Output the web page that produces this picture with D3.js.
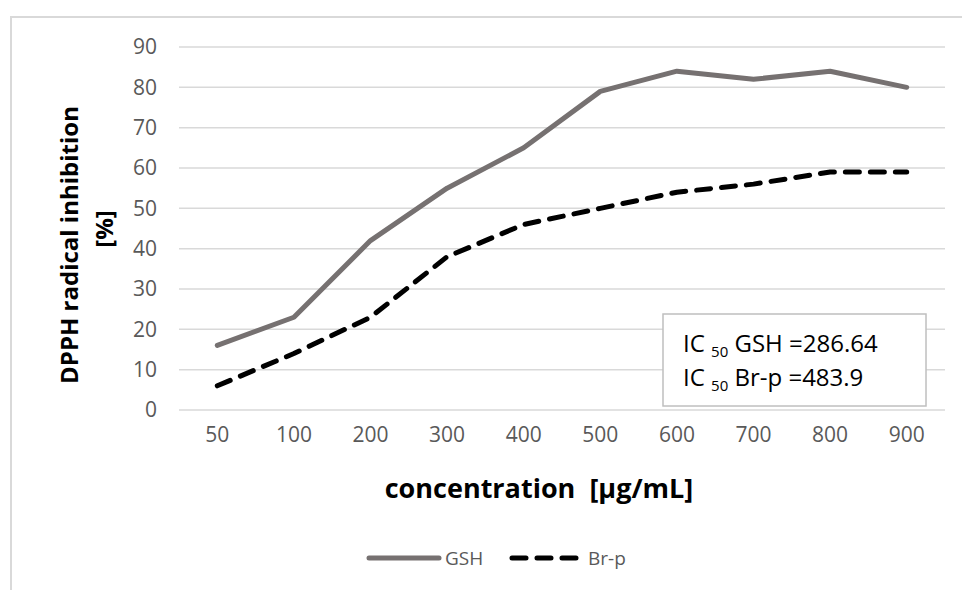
<!DOCTYPE html>
<html>
<head>
<meta charset="utf-8">
<script src="https://cdn.jsdelivr.net/npm/d3@7"></script>
<style>
  body { margin: 0; background: #fff; }
  svg { display: block; }
  text { font-family: "Open Sans", sans-serif; }
</style>
</head>
<body>
<svg id="chart" width="962" height="590"></svg>
<script>
// values
const concentrations = ["50", "100", "200", "300", "400", "500", "600", "700", "800", "900"];
const gsh = [16, 23, 42, 55, 65, 79, 84, 82, 84, 80];
const brp = [6, 14, 23, 38, 46, 50, 54, 56, 59, 59];
const yTicks = [0, 10, 20, 30, 40, 50, 60, 70, 80, 90];
const seriesNames = ["GSH", "Br-p"];
const icLines = [["GSH", "=286.64"], ["Br-p", "=483.9"]];

const svg = d3.select("#chart");

// outer chart frame (only left and top edges are in the crop)
svg.append("path")
    .attr("d", "M11,590 V17 H962")
    .attr("fill", "none")
    .attr("stroke", "#d9d9d9")
    .attr("stroke-width", 2);

let x = d3.scaleBand().domain(concentrations).range([179, 945]);
let y = d3.scaleLinear().domain([0, 90]).range([410, 47]);
let cx = d => x(d) + x.bandwidth() / 2;

// grid
svg.append("g")
    .selectAll("line")
    .data(yTicks)
    .enter()
    .append("line")
    .attr("x1", 179)
    .attr("x2", 945)
    .attr("y1", d => y(d))
    .attr("y2", d => y(d))
    .attr("stroke", "#d9d9d9")
    .attr("stroke-width", 1.5);

let yAxis = svg.append("g")
    .attr("transform", "translate(157,0)")
    .call(d3.axisLeft(y).tickValues(yTicks).tickSize(0).tickPadding(0));
yAxis.select(".domain").remove();
yAxis.selectAll("text")
    .attr("fill", "#595959")
    .style("font-size", "21px");

let xAxis = svg.append("g")
    .attr("transform", "translate(0,427)")
    .call(d3.axisBottom(x).tickSize(0).tickPadding(0));
xAxis.select(".domain").remove();
xAxis.selectAll("text")
    .attr("fill", "#595959")
    .attr("dy", "0.71em")
    .style("font-size", "21px");

// axis titles
svg.append("text")
    .attr("transform", "translate(78,245) rotate(-90)")
    .attr("text-anchor", "middle")
    .style("font-size", "24px")
    .style("font-weight", "bold")
    .text("DPPH radical inhibition");
svg.append("text")
    .attr("transform", "translate(113,229) rotate(-90)")
    .attr("text-anchor", "middle")
    .style("font-size", "24px")
    .style("font-weight", "bold")
    .text("[%]");
svg.append("text")
    .attr("x", 539)
    .attr("y", 498)
    .attr("text-anchor", "middle")
    .style("font-size", "27px")
    .style("font-weight", "bold")
    .style("white-space", "pre")
    .text("concentration  [µg/mL]");

// lines
let line = d3.line()
    .x((d, i) => cx(concentrations[i]))
    .y(d => y(d));

svg.append("path")
    .datum(gsh)
    .attr("d", line)
    .attr("fill", "none")
    .attr("stroke", "#767171")
    .attr("stroke-width", 5)
    .attr("stroke-linejoin", "round")
    .attr("stroke-linecap", "round");

svg.append("path")
    .datum(brp)
    .attr("d", line)
    .attr("fill", "none")
    .attr("stroke", "#000")
    .attr("stroke-width", 5)
    .attr("stroke-dasharray", "14,11")
    .attr("stroke-linejoin", "round")
    .attr("stroke-linecap", "round");

// IC50 box
svg.append("rect")
    .attr("x", 663)
    .attr("y", 314)
    .attr("width", 263)
    .attr("height", 92)
    .attr("fill", "#fff")
    .attr("stroke", "#bfbfbf")
    .attr("stroke-width", 1.5);

let ic = svg.append("g");
icLines.forEach((l, i) => {
    let t = ic.append("text")
        .attr("x", 683)
        .attr("y", 352 + i * 34)
        .attr("fill", "#000")
        .style("font-size", "24px");
    t.append("tspan").text("IC ");
    t.append("tspan").attr("dy", 5).style("font-size", "15px").text("50");
    t.append("tspan").attr("dy", -5).text(" " + l[0] + " " + l[1]);
});

// legend
let legend = svg.append("g");
legend.append("line")
    .attr("x1", 369).attr("x2", 439)
    .attr("y1", 558).attr("y2", 558)
    .attr("stroke", "#767171")
    .attr("stroke-width", 5)
    .attr("stroke-linecap", "round");
legend.append("text")
    .attr("x", 445).attr("y", 565)
    .attr("fill", "#595959")
    .style("font-size", "19px")
    .text(seriesNames[0]);
legend.append("line")
    .attr("x1", 512).attr("x2", 578)
    .attr("y1", 558).attr("y2", 558)
    .attr("stroke", "#000")
    .attr("stroke-width", 5)
    .attr("stroke-dasharray", "14,11")
    .attr("stroke-linecap", "round");
legend.append("text")
    .attr("x", 588).attr("y", 565)
    .attr("fill", "#595959")
    .style("font-size", "19px")
    .text(seriesNames[1]);
</script>
</body>
</html>
